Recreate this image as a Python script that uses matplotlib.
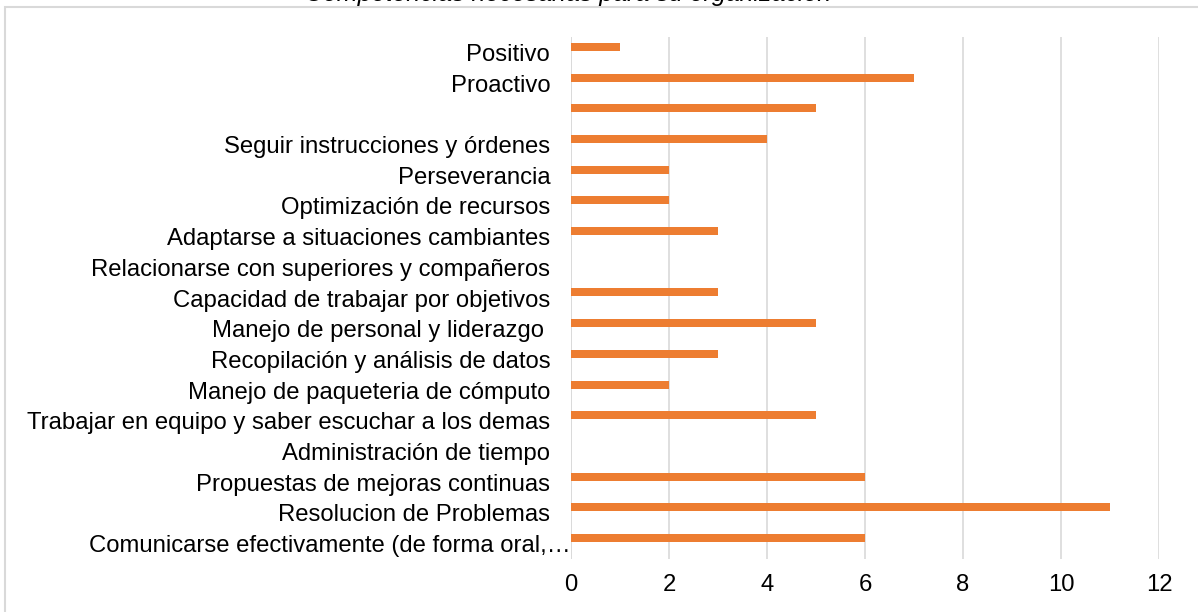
import numpy as np
import matplotlib.pyplot as plt
from matplotlib.patches import Rectangle
from matplotlib.transforms import ScaledTranslation

plt.rcParams['font.family'] = ['Liberation Sans', 'DejaVu Sans']

# categories listed top to bottom
labels = [
    'Positivo',
    'Proactivo',
    '',
    'Seguir instrucciones y órdenes',
    'Perseverancia',
    'Optimización de recursos',
    'Adaptarse a situaciones cambiantes',
    'Relacionarse con superiores y compañeros',
    'Capacidad de trabajar por objetivos',
    'Manejo de personal y liderazgo ',
    'Recopilación y análisis de datos',
    'Manejo de paqueteria de cómputo',
    'Trabajar en equipo y saber escuchar a los demas',
    'Administración de tiempo',
    'Propuestas de mejoras continuas',
    'Resolucion de Problemas',
    'Comunicarse efectivamente (de forma oral,…',
]
values = [1, 7, 5, 4, 2, 2, 3, 0, 3, 5, 3, 2, 5, 0, 6, 11, 6]
title = 'Competencias necesarias para su organización'

W, H = 1198, 612
fig = plt.figure(figsize=(W / 100, H / 100), dpi=100)

# chart frame (runs off the right and bottom edges)
fig.patches.append(Rectangle((5 / W, -0.1), 1.2, 1 - 7 / H + 0.1,
                             transform=fig.transFigure, fill=False,
                             edgecolor='#d9d9d9', linewidth=1.5))

ax = fig.add_axes([571 / W, 1 - 559 / H, (1159 - 571) / W, (559 - 37) / H])

pos = np.arange(len(labels))
ax.barh(pos - 0.18, values, height=0.26, color='#ed7d31')
ax.set_ylim(len(labels) - 0.5, -0.5)
ax.set_xlim(0, 12)
ax.set_xticks(range(0, 13, 2))
ax.set_yticks(pos)
ax.set_yticklabels(labels)

ax.grid(axis='x', color='#d9d9d9', linewidth=1.2)
ax.set_axisbelow(True)
for s in ax.spines.values():
    s.set_visible(False)
ax.axvline(0, color='#d9d9d9', linewidth=1.2, zorder=0)
ax.tick_params(axis='both', length=0, labelsize=17.2, colors='black')
ax.tick_params(axis='y', pad=15)
ax.tick_params(axis='x', pad=11)

# the truncated last label runs right up to the axis
last = ax.get_yticklabels()[-1]
last.set_transform(last.get_transform() + ScaledTranslation(0.2, 0, fig.dpi_scale_trans))

fig.text(0.474, 1 - 0.5 / H, title, ha='center', va='baseline',
         fontsize=18, style='italic')

fig.savefig('out.png', dpi=100)
